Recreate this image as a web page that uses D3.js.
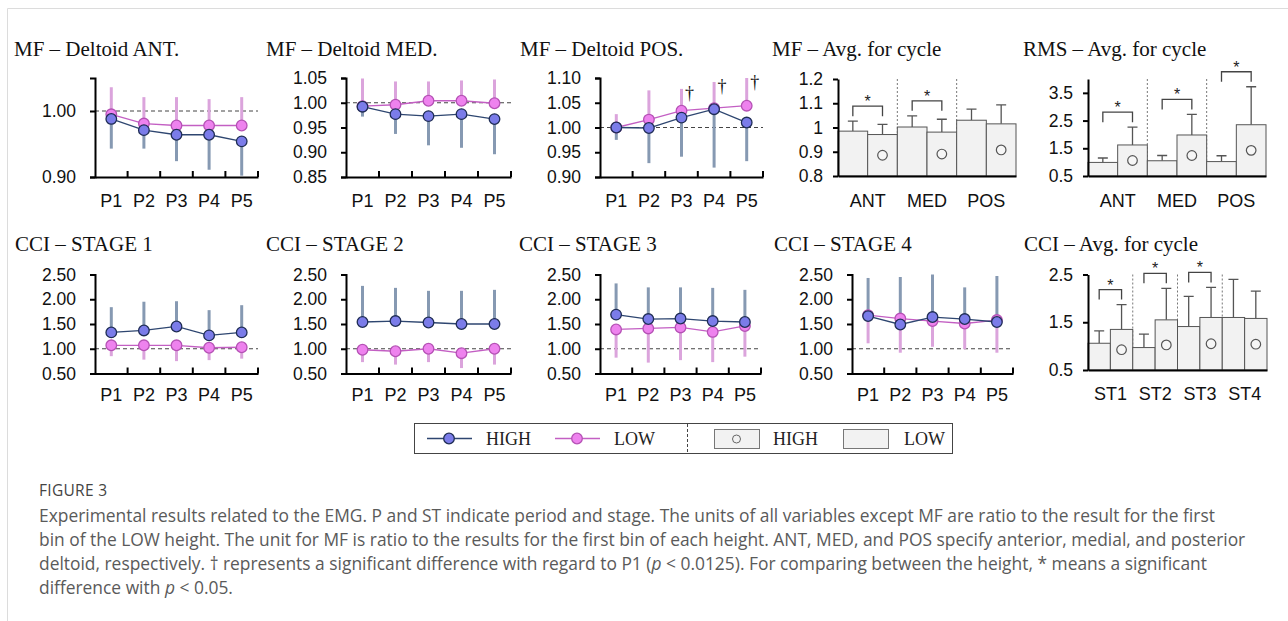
<!DOCTYPE html>
<html>
<head>
<meta charset="utf-8">
<script src="https://cdn.jsdelivr.net/npm/d3@7"></script>
<style>
  body { margin: 0; background: #fff; }
  svg { display: block; }
</style>
</head>
<body>
<svg id="fig" width="1288" height="621"></svg>
<script>
// ---- data ----
var periods = ["P1", "P2", "P3", "P4", "P5"];
var muscles = ["ANT", "MED", "POS"];
var stages = ["ST1", "ST2", "ST3", "ST4"];

var mfAntHigh = [0.988, 0.971, 0.964, 0.964, 0.954];
var mfAntHighSd = [0.045, 0.028, 0.040, 0.053, 0.052];
var mfAntLow = [0.995, 0.981, 0.978, 0.978, 0.978];
var mfAntLowSd = [0.041, 0.040, 0.043, 0.040, 0.043];

var mfMedHigh = [0.992, 0.977, 0.973, 0.977, 0.967];
var mfMedHighSd = [0.020, 0.040, 0.059, 0.068, 0.071];
var mfMedLow = [0.993, 0.996, 1.004, 1.004, 0.999];
var mfMedLowSd = [0.056, 0.047, 0.039, 0.041, 0.048];

var mfPosHigh = [1.000, 0.999, 1.020, 1.037, 1.010];
var mfPosHighSd = [0.025, 0.071, 0.079, 0.118, 0.078];
var mfPosLow = [1.000, 1.016, 1.034, 1.039, 1.044];
var mfPosLowSd = [0.027, 0.059, 0.044, 0.053, 0.056];
var mfPosDagger = [false, false, true, true, true];

var cci1High = [1.33, 1.37, 1.45, 1.27, 1.33];
var cci1HighSd = [0.51, 0.58, 0.51, 0.51, 0.55];
var cci1Low = [1.07, 1.07, 1.07, 1.02, 1.03];
var cci1LowSd = [0.22, 0.29, 0.32, 0.25, 0.23];

var cci2High = [1.54, 1.56, 1.53, 1.50, 1.50];
var cci2HighSd = [0.73, 0.67, 0.64, 0.67, 0.69];
var cci2Low = [0.98, 0.95, 1.00, 0.91, 1.00];
var cci2LowSd = [0.25, 0.27, 0.27, 0.30, 0.32];

var cci3High = [1.69, 1.60, 1.61, 1.56, 1.54];
var cci3HighSd = [0.63, 0.64, 0.63, 0.67, 0.65];
var cci3Low = [1.39, 1.41, 1.43, 1.34, 1.46];
var cci3LowSd = [0.57, 0.69, 0.66, 0.61, 0.62];

var cci4High = [1.66, 1.49, 1.64, 1.60, 1.54];
var cci4HighSd = [0.77, 0.96, 0.86, 0.64, 0.93];
var cci4Low = [1.68, 1.61, 1.56, 1.51, 1.58];
var cci4LowSd = [0.57, 0.69, 0.52, 0.52, 0.66];

var mfAvgHigh = [0.971, 0.981, 1.015];
var mfAvgHighSd = [0.042, 0.053, 0.078];
var mfAvgLow = [0.985, 1.002, 1.030];
var mfAvgLowSd = [0.041, 0.046, 0.046];
var mfAvgSig = [true, true, false];

var rmsAvgHigh = [1.62, 1.98, 2.35];
var rmsAvgHighSd = [0.64, 0.74, 1.37];
var rmsAvgLow = [0.99, 1.05, 1.02];
var rmsAvgLowSd = [0.16, 0.19, 0.21];
var rmsAvgSig = [true, true, true];

var cciAvgHigh = [1.35, 1.55, 1.60, 1.58];
var cciAvgHighSd = [0.52, 0.66, 0.63, 0.57];
var cciAvgLow = [1.06, 0.97, 1.41, 1.60];
var cciAvgLowSd = [0.26, 0.28, 0.63, 0.80];
var cciAvgSig = [true, true, true, false];

// ---- styles ----
var sans = "'Liberation Sans', Arial, sans-serif";
var serif = "'Liberation Serif', 'Times New Roman', serif";
var capSans = "'Open Sans', 'Noto Sans', sans-serif";

var highStyle = {fill: "#7b7ce9", stroke: "#1f2d55", line: "#2e4670", err: "#8699b2"};
var lowStyle = {fill: "#ee82ee", stroke: "#b552b5", line: "#c35fc3", err: "#dba4dc"};

var svg = d3.select("#fig");

// frame
svg.append("path")
  .attr("d", "M7.5,621 V8.5 H1288")
  .attr("fill", "none")
  .attr("stroke", "#dcdcdc")
  .attr("stroke-width", 1);

function addTitle(text, x, y) {
  svg.append("text")
    .attr("x", x).attr("y", y)
    .attr("font-family", serif)
    .attr("font-size", 21)
    .attr("fill", "#111")
    .text(text);
}

function styleAxis(sel, size) {
  sel.attr("font-family", null).attr("font-size", null);
  sel.select(".domain").attr("stroke", "#000").attr("stroke-width", 2);
  sel.selectAll(".tick line").attr("stroke", "#000").attr("stroke-width", 2);
  sel.selectAll(".tick text")
    .attr("font-family", sans)
    .attr("font-size", size)
    .attr("fill", "#111");
}

function linePanel(p) {
  var g = svg.append("g");
  var x = d3.scaleBand().domain(periods).range([p.x0, p.x1]);
  var cx = function(i) { return x(periods[i]) + x.bandwidth() / 2; };
  var y = d3.scaleLinear().domain(p.domain).range([p.y1, p.y0]);

  addTitle(p.title, p.tx, p.ty);

  // reference line at 1.00
  g.append("line")
    .attr("x1", p.x0).attr("x2", p.x1)
    .attr("y1", y(1)).attr("y2", y(1))
    .attr("stroke", "#444")
    .attr("stroke-width", 1)
    .attr("stroke-dasharray", "4,3");

  var series = [
    {mean: p.low, sd: p.lowSd, dir: p.lowDir, st: lowStyle},
    {mean: p.high, sd: p.highSd, dir: p.highDir, st: highStyle}
  ];

  // one-sided SD bars
  series.forEach(function(s) {
    g.selectAll(null)
      .data(s.mean)
      .enter().append("line")
        .attr("x1", (d, i) => cx(i))
        .attr("x2", (d, i) => cx(i))
        .attr("y1", d => y(d))
        .attr("y2", (d, i) => y(d + s.dir * s.sd[i]))
        .attr("stroke", s.st.err)
        .attr("stroke-width", 3);
  });

  series.forEach(function(s) {
    var line = d3.line()
      .x((d, i) => cx(i))
      .y(d => y(d));
    g.append("path")
      .attr("d", line(s.mean))
      .attr("fill", "none")
      .attr("stroke", s.st.line)
      .attr("stroke-width", 1.3);
    g.selectAll(null)
      .data(s.mean)
      .enter().append("circle")
        .attr("cx", (d, i) => cx(i))
        .attr("cy", d => y(d))
        .attr("r", 5.3)
        .attr("fill", s.st.fill)
        .attr("stroke", s.st.stroke)
        .attr("stroke-width", 1.3);
  });

  if (p.dagger) {
    var marks = p.low
      .map((d, i) => ({i: i, top: d + p.lowSd[i]}))
      .filter(d => p.dagger[d.i]);
    g.selectAll(null)
      .data(marks)
      .enter().append("text")
        .attr("x", d => cx(d.i) + 8)
        .attr("y", d => y(d.top) + 10)
        .attr("text-anchor", "middle")
        .attr("font-family", serif)
        .attr("font-size", 18)
        .attr("fill", "#111")
        .text("\u2020");
  }

  // axes
  var gy = g.append("g")
    .attr("transform", `translate(${p.x0},0)`)
    .call(d3.axisLeft(y)
      .tickValues(p.ticks)
      .tickFormat(d3.format(".2f"))
      .tickSizeInner(5)
      .tickSizeOuter(5)
      .tickPadding(14));
  styleAxis(gy, 17.5);

  var gx = g.append("g")
    .attr("transform", `translate(0,${p.y1})`)
    .call(d3.axisBottom(x)
      .tickSize(0)
      .tickPadding(p.labelPad));
  styleAxis(gx, 18);

  // upward ticks on category edges
  g.selectAll(null)
    .data(periods)
    .enter().append("line")
      .attr("x1", d => x(d) + x.bandwidth())
      .attr("x2", d => x(d) + x.bandwidth())
      .attr("y1", p.y1)
      .attr("y2", p.y1 - 6)
      .attr("stroke", "#000")
      .attr("stroke-width", 2);
}

function barPanel(p) {
  var g = svg.append("g");
  var x = d3.scaleBand().domain(p.groups).range([p.x0, p.x1]);
  var xs = d3.scaleBand().domain(["LOW", "HIGH"]).range([0, x.bandwidth()]);
  var y = d3.scaleLinear().domain(p.domain).range([p.y1, p.y0]);
  var base = y(p.domain[0]);

  addTitle(p.title, p.tx, p.ty);

  // dotted group dividers
  g.selectAll(null)
    .data(p.groups.slice(1))
    .enter().append("line")
      .attr("x1", d => x(d)).attr("x2", d => x(d))
      .attr("y1", p.y0).attr("y2", p.y1)
      .attr("stroke", "#777")
      .attr("stroke-width", 1)
      .attr("stroke-dasharray", "2,2");

  var rows = [];
  p.groups.forEach(function(grp, i) {
    rows.push({grp: grp, key: "LOW", v: p.low[i], sd: p.lowSd[i]});
    rows.push({grp: grp, key: "HIGH", v: p.high[i], sd: p.highSd[i]});
  });
  var bx = d => x(d.grp) + xs(d.key) + xs.bandwidth() / 2;

  // error bars (behind bars)
  g.selectAll(null)
    .data(rows)
    .enter().append("path")
      .attr("d", d => `M${bx(d)},${y(d.v)}V${y(d.v + d.sd)}M${bx(d) - 5},${y(d.v + d.sd)}H${bx(d) + 5}`)
      .attr("fill", "none")
      .attr("stroke", "#555")
      .attr("stroke-width", 1.3);

  g.selectAll(null)
    .data(rows)
    .enter().append("rect")
      .attr("x", d => x(d.grp) + xs(d.key))
      .attr("width", xs.bandwidth())
      .attr("y", d => y(d.v))
      .attr("height", d => base - y(d.v))
      .attr("fill", "#f2f2f2")
      .attr("stroke", "#555")
      .attr("stroke-width", 1);

  // open circle marks the HIGH bars
  g.selectAll(null)
    .data(rows.filter(d => d.key === "HIGH"))
    .enter().append("circle")
      .attr("cx", bx)
      .attr("cy", d => (y(d.v) + base) / 2)
      .attr("r", 4.8)
      .attr("fill", "#f6f6f6")
      .attr("stroke", "#555")
      .attr("stroke-width", 1.2);

  // significance brackets
  p.groups.forEach(function(grp, i) {
    if (!p.sig[i]) return;
    var xl = x(grp) + xs("LOW") + xs.bandwidth() / 2;
    var xh = x(grp) + xs("HIGH") + xs.bandwidth() / 2;
    var top = Math.min(y(p.low[i] + p.lowSd[i]), y(p.high[i] + p.highSd[i])) - 15;
    g.append("path")
      .attr("d", `M${xl},${top + 10}V${top}H${xh}V${top + 10}`)
      .attr("fill", "none")
      .attr("stroke", "#444")
      .attr("stroke-width", 1.3);
    g.append("text")
      .attr("x", (xl + xh) / 2)
      .attr("y", top + 1)
      .attr("text-anchor", "middle")
      .attr("font-family", sans)
      .attr("font-size", 16)
      .attr("fill", "#222")
      .text("*");
  });

  var gy = g.append("g")
    .attr("transform", `translate(${p.x0},0)`)
    .call(d3.axisLeft(y)
      .tickValues(p.ticks)
      .tickFormat(d => String(+d.toFixed(2)))
      .tickSizeInner(5)
      .tickSizeOuter(0)
      .tickPadding(10));
  styleAxis(gy, 17.5);

  var gx = g.append("g")
    .attr("transform", `translate(0,${p.y1})`)
    .call(d3.axisBottom(x)
      .tickSize(0)
      .tickPadding(p.labelPad));
  styleAxis(gx, 18);
}

// ---- top row ----
linePanel({
  title: "MF \u2013 Deltoid ANT.", tx: 14, ty: 56,
  x0: 95, x1: 258, y0: 78, y1: 177, labelPad: 17,
  domain: [0.90, 1.05], ticks: [0.90, 1.00],
  high: mfAntHigh, highSd: mfAntHighSd, highDir: -1,
  low: mfAntLow, lowSd: mfAntLowSd, lowDir: 1
});
linePanel({
  title: "MF \u2013 Deltoid MED.", tx: 266, ty: 56,
  x0: 346, x1: 511, y0: 78, y1: 177, labelPad: 17,
  domain: [0.85, 1.05], ticks: [0.85, 0.90, 0.95, 1.00, 1.05],
  high: mfMedHigh, highSd: mfMedHighSd, highDir: -1,
  low: mfMedLow, lowSd: mfMedLowSd, lowDir: 1
});
linePanel({
  title: "MF \u2013 Deltoid POS.", tx: 520, ty: 56,
  x0: 600, x1: 763, y0: 78, y1: 177, labelPad: 17,
  domain: [0.90, 1.10], ticks: [0.90, 0.95, 1.00, 1.05, 1.10],
  high: mfPosHigh, highSd: mfPosHighSd, highDir: -1,
  low: mfPosLow, lowSd: mfPosLowSd, lowDir: 1,
  dagger: mfPosDagger
});
barPanel({
  title: "MF \u2013 Avg. for cycle", tx: 772, ty: 56,
  x0: 838, x1: 1016, y0: 79, y1: 176, labelPad: 18,
  groups: muscles, domain: [0.8, 1.2], ticks: [0.8, 0.9, 1.0, 1.1, 1.2],
  high: mfAvgHigh, highSd: mfAvgHighSd, low: mfAvgLow, lowSd: mfAvgLowSd, sig: mfAvgSig
});
barPanel({
  title: "RMS \u2013 Avg. for cycle", tx: 1023, ty: 56,
  x0: 1088, x1: 1266, y0: 79, y1: 176, labelPad: 18,
  groups: muscles, domain: [0.5, 4.0], ticks: [0.5, 1.5, 2.5, 3.5],
  high: rmsAvgHigh, highSd: rmsAvgHighSd, low: rmsAvgLow, lowSd: rmsAvgLowSd, sig: rmsAvgSig
});

// ---- bottom row ----
var cciTicks = [0.5, 1.0, 1.5, 2.0, 2.5];
[
  {title: "CCI \u2013 STAGE 1", tx: 15, x0: 95, x1: 258, high: cci1High, highSd: cci1HighSd, low: cci1Low, lowSd: cci1LowSd},
  {title: "CCI \u2013 STAGE 2", tx: 266, x0: 346, x1: 511, high: cci2High, highSd: cci2HighSd, low: cci2Low, lowSd: cci2LowSd},
  {title: "CCI \u2013 STAGE 3", tx: 519, x0: 600, x1: 761, high: cci3High, highSd: cci3HighSd, low: cci3Low, lowSd: cci3LowSd},
  {title: "CCI \u2013 STAGE 4", tx: 774, x0: 852, x1: 1013, high: cci4High, highSd: cci4HighSd, low: cci4Low, lowSd: cci4LowSd}
].forEach(function(c) {
  linePanel(Object.assign(c, {
    ty: 251, y0: 274.5, y1: 373.5, labelPad: 14.5,
    domain: [0.5, 2.5], ticks: cciTicks, highDir: 1, lowDir: -1
  }));
});
barPanel({
  title: "CCI \u2013 Avg. for cycle", tx: 1024, ty: 251,
  x0: 1088, x1: 1267, y0: 274.5, y1: 370, labelPad: 17,
  groups: stages, domain: [0.5, 2.5], ticks: [0.5, 1.5, 2.5],
  high: cciAvgHigh, highSd: cciAvgHighSd, low: cciAvgLow, lowSd: cciAvgLowSd, sig: cciAvgSig
});

// ---- legend ----
var lg = svg.append("g");
lg.append("rect")
  .attr("x", 414.5).attr("y", 423.5)
  .attr("width", 538).attr("height", 30)
  .attr("fill", "#fff")
  .attr("stroke", "#444")
  .attr("stroke-width", 1);
lg.append("line")
  .attr("x1", 687.5).attr("x2", 687.5)
  .attr("y1", 424).attr("y2", 453)
  .attr("stroke", "#444")
  .attr("stroke-dasharray", "3,2");

var legendLines = [
  {x: 427, label: "HIGH", tx: 486, st: highStyle},
  {x: 555, label: "LOW", tx: 614, st: lowStyle}
];
legendLines.forEach(function(l) {
  lg.append("line")
    .attr("x1", l.x).attr("x2", l.x + 45)
    .attr("y1", 438.5).attr("y2", 438.5)
    .attr("stroke", l.st.line)
    .attr("stroke-width", 1.3);
  lg.append("circle")
    .attr("cx", l.x + 22).attr("cy", 438.5).attr("r", 5.3)
    .attr("fill", l.st.fill)
    .attr("stroke", l.st.stroke)
    .attr("stroke-width", 1.3);
  lg.append("text")
    .attr("x", l.tx).attr("y", 445)
    .attr("font-family", serif).attr("font-size", 18).attr("fill", "#222")
    .text(l.label);
});
var legendBars = [
  {x: 714, label: "HIGH", tx: 773, mark: true},
  {x: 843, label: "LOW", tx: 904, mark: false}
];
legendBars.forEach(function(b) {
  lg.append("rect")
    .attr("x", b.x + 0.5).attr("y", 429.5)
    .attr("width", 45).attr("height", 19)
    .attr("fill", "#f2f2f2")
    .attr("stroke", "#777");
  if (b.mark) {
    lg.append("circle")
      .attr("cx", b.x + 22.5).attr("cy", 439)
      .attr("r", 4)
      .attr("fill", "none")
      .attr("stroke", "#666");
  }
  lg.append("text")
    .attr("x", b.tx).attr("y", 445)
    .attr("font-family", serif).attr("font-size", 18).attr("fill", "#222")
    .text(b.label);
});

// ---- caption ----
svg.append("text")
  .attr("x", 39).attr("y", 496)
  .attr("font-family", capSans)
  .attr("font-size", 15.5)
  .attr("letter-spacing", 0.3)
  .attr("fill", "#444")
  .text("FIGURE 3");

var captionLines = [
  [["Experimental results related to the EMG. P and ST indicate period and stage. The units of all variables except MF are ratio to the result for the first", false]],
  [["bin of the LOW height. The unit for MF is ratio to the results for the first bin of each height. ANT, MED, and POS specify anterior, medial, and posterior", false]],
  [["deltoid, respectively. \u2020 represents a significant difference with regard to P1 (", false], ["p", true], [" < 0.0125). For comparing between the height, * means a significant", false]],
  [["difference with ", false], ["p", true], [" < 0.05.", false]]
];
captionLines.forEach(function(parts, i) {
  var t = svg.append("text")
    .attr("x", 39).attr("y", 522 + i * 24)
    .attr("font-family", capSans)
    .attr("font-size", 17.4)
    .attr("fill", "#5a5a5a");
  parts.forEach(function(pt) {
    t.append("tspan")
      .attr("font-style", pt[1] ? "italic" : null)
      .text(pt[0]);
  });
});
</script>
</body>
</html>
